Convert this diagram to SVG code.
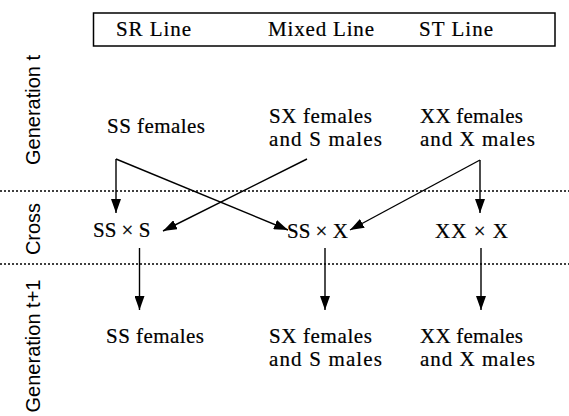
<svg xmlns="http://www.w3.org/2000/svg" width="569" height="416" viewBox="0 0 569 416">
<defs>
<style>
.t{font-family:Liberation Serif,Times New Roman,Times,serif;font-size:21px;fill:#000;stroke:#000;stroke-width:0.2}
.lab{font-family:Liberation Sans,Arial,sans-serif;font-size:20px;fill:#000}
.ln{stroke:#000;stroke-width:1.4;fill:none}
.dot{stroke:#000;stroke-width:1.3;stroke-dasharray:2 2;fill:none}
</style>
<marker id="ah" viewBox="0 0 14 10" refX="14" refY="5" markerWidth="14" markerHeight="10" markerUnits="userSpaceOnUse" orient="auto">
<path d="M0,0 L14,5 L0,10 Z" fill="#000"/>
</marker>
</defs>
<rect width="569" height="416" fill="#fff"/>
<g id="header">
<rect x="93.5" y="13" width="461.5" height="33" fill="none" stroke="#000" stroke-width="1.5"/>
<text class="t" x="116" y="36" textLength="75">SR Line</text>
<text class="t" x="268" y="36" textLength="106">Mixed Line</text>
<text class="t" x="419" y="36" textLength="74">ST Line</text>
</g>
<g id="row-labels">
<text class="lab" transform="translate(40,110) rotate(-90)" text-anchor="middle">Generation t</text>
<text class="lab" transform="translate(40,229) rotate(-90)" text-anchor="middle">Cross</text>
<text class="lab" transform="translate(40,346) rotate(-90)" text-anchor="middle">Generation t+1</text>
</g>
<g id="dividers">
<line class="dot" x1="0" y1="191" x2="569" y2="191"/>
<line class="dot" x1="0" y1="264" x2="569" y2="264"/>
</g>
<g id="gen-t-sr"><text class="t" x="107" y="133" textLength="98">SS females</text></g>
<g id="gen-t-mixed"><text class="t" x="269" y="123" textLength="103">SX females</text><text class="t" x="269" y="146" textLength="113">and S males</text></g>
<g id="gen-t-st"><text class="t" x="420" y="123" textLength="103">XX females</text><text class="t" x="420" y="146" textLength="115">and X males</text></g>
<g id="cross-sr"><text class="t" x="93" y="237">SS × S</text></g>
<g id="cross-mixed"><text class="t" x="287" y="238">SS × X</text></g>
<g id="cross-st"><text class="t" x="435" y="238" textLength="73">XX × X</text></g>
<g id="gen-t1-sr"><text class="t" x="106" y="343" textLength="98">SS females</text></g>
<g id="gen-t1-mixed"><text class="t" x="269" y="343" textLength="103">SX females</text><text class="t" x="269" y="366" textLength="113">and S males</text></g>
<g id="gen-t1-st"><text class="t" x="420" y="343" textLength="103">XX females</text><text class="t" x="420" y="366" textLength="115">and X males</text></g>
<g id="connectors">
<line class="ln" x1="116" y1="159" x2="116" y2="213" marker-end="url(#ah)"/>
<line class="ln" x1="116" y1="159" x2="288" y2="230" marker-end="url(#ah)"/>
<line class="ln" x1="307" y1="159" x2="163" y2="231" marker-end="url(#ah)"/>
<line class="ln" x1="480" y1="160" x2="480" y2="213" marker-end="url(#ah)"/>
<line class="ln" x1="480" y1="160" x2="350" y2="230" marker-end="url(#ah)"/>
<line class="ln" x1="139.5" y1="248" x2="139.5" y2="310" marker-end="url(#ah)"/>
<line class="ln" x1="325" y1="248" x2="325" y2="310" marker-end="url(#ah)"/>
<line class="ln" x1="481" y1="248" x2="481" y2="310" marker-end="url(#ah)"/>
</g>
</svg>
